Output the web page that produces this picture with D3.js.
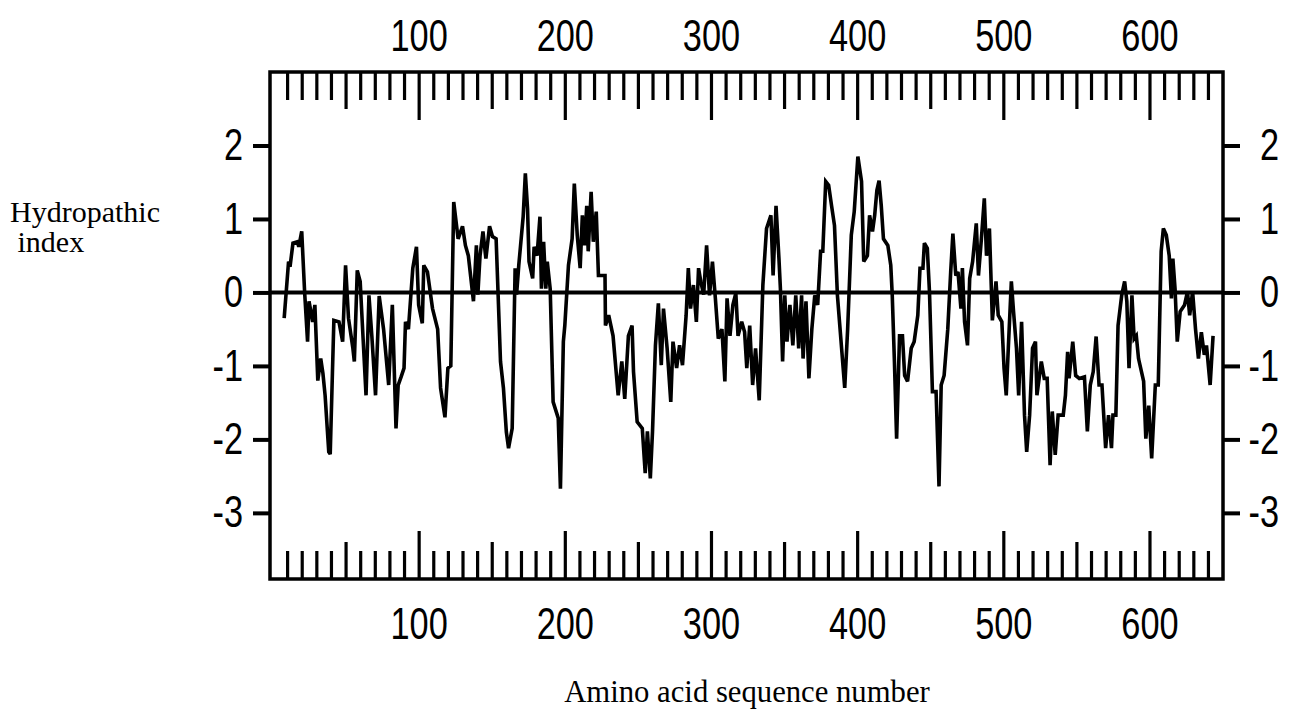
<!DOCTYPE html>
<html>
<head>
<meta charset="utf-8">
<script src="https://cdnjs.cloudflare.com/ajax/libs/d3/7.8.5/d3.min.js"></script>
<style>
  html, body { margin: 0; padding: 0; background: #fff; }
  svg { display: block; }
</style>
</head>
<body>
<svg id="chart" width="1289" height="720"></svg>
<script>
// ---- data ----
const seqPos = [8,11,12,14,17,18,20,22,24,25,27.5,29,31,33,34.5,36,38.5,39.5,41,42,45.5,48,50,52,55,56,58,60,62,64,66,68,70.5,73,76,79.5,82,84.5,86,88,90,91,93,96,98.5,100,102.5,103.5,106,109.5,113,115,118,120,122,124,127,130,132,134,137.5,139.5,140.5,142,144,146,148.5,150.5,153,156,158,160,161.5,164,166,167,168.5,171.5,173,174.5,175.5,178,179,181,183,184,185.5,187,188,190,192,195.5,197,199,200,202.5,205,206.5,208.5,210.5,212,213.5,215,216,218,219.5,221.5,223,227.5,227.8,230,233,236.5,239,241,243.5,246,247,249.5,253,255,256.5,258.5,260,262,264,266,267.5,270,272.5,274,276.5,278.5,280.5,283,284.5,286,288,290,291.5,293,295,297,299,301,303,305,307.5,309.5,311,313,315,317,318.5,321,323,324.5,326.5,328.5,330.5,333,335.5,338,341,342.5,344.5,346.5,347.5,349,350.5,352,354,356,358,360,362,363,365,367,369,371,373,375,376.5,378.5,380.5,382.5,384.5,386.5,391.5,393.5,396,398,400.5,403,404.5,407,408.5,410.5,412,413.5,415,416.5,418,421,423,424,425.5,427,429,431,432.5,434.5,437,439,441.5,443,445,446,448,449.5,451.5,454,456,457.5,459.5,462,464,465.5,467.5,469,471,472,473.5,475.5,477,479,481.5,483,485,487,488.5,490.5,492.5,495,496.5,499,500.5,502,503.5,505.5,507,509,510.5,512.5,514.5,516,518,520,522,523,526,528,530,532,533.5,535.5,537.5,541,542.5,544,545,547.5,549.5,552,555.5,557.5,559.5,561.5,563.5,565.5,567.5,570,572,574,575,577,578.5,581,583,584.5,586,588,589.5,591,592.5,596,597.5,599.5,601.5,604,606,608,609.5,611.5,613.5,615,616,617.5,619,621,624,626,627.5,629.5,631.5,633.5,635.5,637.5,639,641.5,643.5];
const hydroIndex = [-0.35,0.42,0.35,0.67,0.69,0.62,0.83,0,-0.67,-0.12,-0.4,-0.17,-1.2,-0.9,-1.1,-1.4,-2.17,-2.2,-1.1,-0.38,-0.4,-0.67,0.37,-0.35,-0.76,-0.94,0.3,0.15,-0.63,-1.4,-0.04,-0.6,-1.4,-0.05,-0.5,-1.26,-0.17,-1.85,-1.26,-1.15,-1.03,-0.4,-0.5,0.33,0.62,-0.17,-0.42,0.37,0.28,-0.22,-0.5,-1.3,-1.7,-1.03,-1.0,1.23,0.73,0.9,0.64,0.5,-0.12,0.64,-0.03,0.5,0.83,0.46,0.9,0.76,0.73,-0.94,-1.3,-1.9,-2.12,-1.85,0.33,-0.03,0.37,1.03,1.62,1.14,0.42,0.19,0.62,0.5,1.03,0.05,0.69,0.05,0.42,0.05,-1.49,-1.71,-2.67,-0.67,-0.45,0.37,0.73,1.48,0.78,0.33,1.05,0.64,1.18,0.56,1.37,0.69,1.1,0.23,0.23,-0.45,-0.31,-0.59,-1.4,-0.94,-1.45,-0.59,-0.45,-1.08,-1.76,-1.85,-2.46,-1.89,-2.53,-1.89,-0.72,-0.15,-0.99,-0.22,-0.76,-1.49,-0.67,-1.03,-0.72,-0.99,-0.31,0.33,-0.22,0.1,-0.4,0.33,0.15,-0.03,0.64,-0.04,0.42,-0.08,-0.63,-0.5,-1.21,-0.08,-0.59,-0.17,-0.01,-0.59,-0.4,-0.54,-1.03,-0.45,-1.26,-0.76,-1.47,0.1,0.87,1.05,0.23,1.18,0.46,0.05,-0.94,-0.04,-0.67,-0.17,-0.72,-0.04,-0.76,-0.04,-0.9,-0.12,-1.17,-0.5,-0.04,-0.17,0.56,0.56,1.51,1.46,1.18,0.91,-0.04,-1.3,-0.5,0.78,1.1,1.85,1.51,0.42,0.5,1.05,0.83,1.05,1.39,1.52,1.18,0.73,0.64,0.37,-0.03,-0.94,-1.99,-0.59,-0.59,-1.13,-1.21,-0.76,-0.67,-0.31,0.33,0.33,0.67,0.6,0,-1.35,-1.35,-2.64,-1.26,-1.13,-0.5,0.28,0.8,0.23,0.28,-0.22,0.33,-0.4,-0.72,0.19,0.42,0.94,0.23,0.73,1.28,0.5,0.87,-0.38,0.15,-0.31,-0.4,-1.03,-1.4,-0.72,0.15,-0.26,-0.76,-1.4,-0.4,-1.67,-2.17,-1.67,-0.76,-0.67,-1.4,-0.94,-1.17,-1.17,-2.35,-1.62,-2.21,-1.67,-1.67,-1.4,-0.81,-1.17,-0.67,-1.13,-1.17,-1.15,-1.89,-1.26,-1.08,-0.6,-1.26,-1.26,-2.12,-1.67,-2.12,-1.67,-1.67,-0.45,-0.04,0.15,-0.12,-1.03,-0.04,-0.63,-0.59,-0.9,-1.21,-1.99,-1.54,-2.26,-1.26,-1.26,0.56,0.87,0.78,0.5,-0.08,0.46,0.05,-0.67,-0.26,-0.17,0.01,-0.31,0.01,-0.5,-0.9,-0.54,-0.85,-0.72,-1.26,-0.59];
const xTickValues = d3.range(10, 650, 10);
const xTickLabels = [100, 200, 300, 400, 500, 600];
const yTickLabels = [2, 1, 0, -1, -2, -3];
const yTitle = ["Hydropathic", " index"];
const xTitle = "Amino acid sequence number";

(function () {
// ---- layout ----
const svg = d3.select("#chart");
const pL = 270, pR = 1223, pT = 72, pB = 579;
const x = d3.scaleLinear().domain([-1.7, 650.3]).range([pL, pR]);
const y = d3.scaleLinear().domain([-3.9, 3.0]).range([pB, pT]);

const tickFont = "'Liberation Sans', Arial, sans-serif";
const labelFont = "'Liberation Serif', 'Times New Roman', serif";
const SX = 0.78;          // horizontal condensing of the tick-label face
const tickFS = 44;

function tickLen(d) { return d % 100 === 0 ? 48 : (d % 50 === 0 ? 37 : 28); }
const fmtX = d => xTickLabels.includes(d) ? String(d) : "";
const fmtY = d => d < 0 ? "-" + Math.abs(d) : String(d);

// top axis (ticks pointing inward / down)
const gTop = svg.append("g").attr("transform", `translate(0,${pT})`)
  .call(d3.axisTop(x).tickValues(xTickValues).tickFormat(fmtX).tickSize(-28).tickPadding(21));
gTop.select(".domain").remove();
gTop.selectAll(".tick line").attr("y2", d => tickLen(d)).attr("stroke", "#000").attr("stroke-width", 3.2);
gTop.selectAll(".tick text").attr("font-family", tickFont).attr("font-size", tickFS).attr("fill", "#000")
  .attr("transform", `scale(${SX},1)`);

// bottom axis (ticks pointing inward / up)
const gBot = svg.append("g").attr("transform", `translate(0,${pB})`)
  .call(d3.axisBottom(x).tickValues(xTickValues).tickFormat(fmtX).tickSize(-28).tickPadding(29));
gBot.select(".domain").remove();
gBot.selectAll(".tick line").attr("y2", d => -tickLen(d)).attr("stroke", "#000").attr("stroke-width", 3.2);
gBot.selectAll(".tick text").attr("font-family", tickFont).attr("font-size", tickFS).attr("fill", "#000")
  .attr("transform", `scale(${SX},1)`);

// left axis
const gLeft = svg.append("g").attr("transform", `translate(${pL},0)`)
  .call(d3.axisLeft(y).tickValues(yTickLabels).tickFormat(fmtY).tickSize(17).tickPadding(10));
gLeft.select(".domain").remove();
gLeft.selectAll(".tick line").attr("stroke", "#000").attr("stroke-width", 4);
gLeft.selectAll(".tick text").attr("font-family", tickFont).attr("font-size", tickFS).attr("fill", "#000")
  .attr("x", -27 / SX).attr("transform", `scale(${SX},1)`);

// right axis
const gRight = svg.append("g").attr("transform", `translate(${pR},0)`)
  .call(d3.axisRight(y).tickValues(yTickLabels).tickFormat(fmtY).tickSize(17).tickPadding(10));
gRight.select(".domain").remove();
gRight.selectAll(".tick line").attr("stroke", "#000").attr("stroke-width", 4);
gRight.selectAll(".tick text").attr("font-family", tickFont).attr("font-size", tickFS).attr("fill", "#000")
  .attr("text-anchor", "end").attr("x", 56 / SX).attr("transform", `scale(${SX},1)`);

// frame
svg.append("rect").attr("x", pL).attr("y", pT).attr("width", pR - pL).attr("height", pB - pT)
  .attr("fill", "none").attr("stroke", "#000").attr("stroke-width", 3.5);

// zero line
svg.append("line").attr("x1", x(-1.7)).attr("x2", x(650.3)).attr("y1", y(0)).attr("y2", y(0))
  .attr("stroke", "#000").attr("stroke-width", 4);

// hydropathy profile
const pts = seqPos.map((p, i) => [p, hydroIndex[i]]);
svg.append("path").datum(pts)
  .attr("d", d3.line().x(d => x(d[0])).y(d => y(d[1])))
  .attr("fill", "none").attr("stroke", "#000").attr("stroke-width", 3.6)
  .attr("stroke-linejoin", "miter").attr("stroke-miterlimit", 3);

// titles
const yt = svg.append("text").attr("font-family", labelFont).attr("font-size", 30).attr("fill", "#000");
yt.append("tspan").attr("x", 10).attr("y", 222).text(yTitle[0]);
yt.append("tspan").attr("x", 10).attr("y", 252).style("white-space", "pre").text(yTitle[1]);

svg.append("text").attr("x", 747).attr("y", 702).attr("text-anchor", "middle")
  .attr("font-family", labelFont).attr("font-size", 30.7).attr("fill", "#000").text(xTitle);
})();
</script>
</body>
</html>
